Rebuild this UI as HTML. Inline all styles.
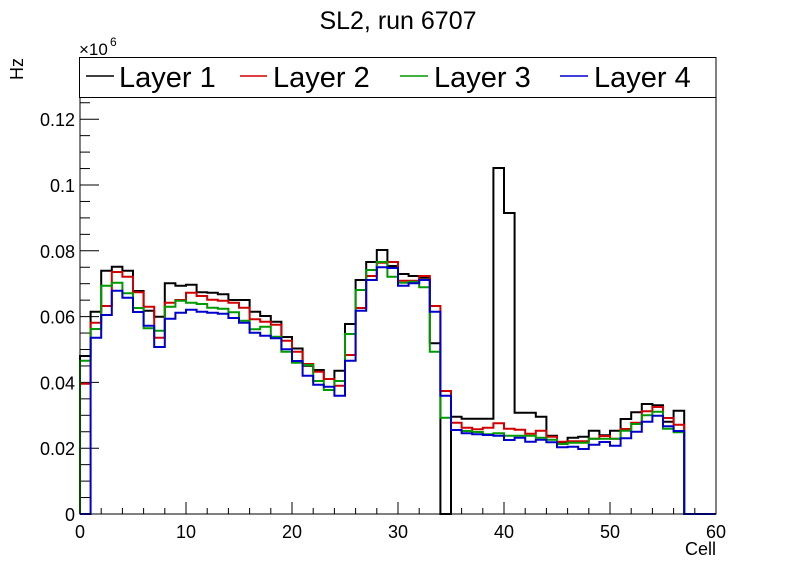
<!DOCTYPE html>
<html><head><meta charset="utf-8"><style>
body{margin:0;background:#fff;}
svg text{font-family:"Liberation Sans",Arial,sans-serif;}
</style></head><body>
<svg id="s" width="796" height="572" xmlns="http://www.w3.org/2000/svg">
<rect width="796" height="572" fill="#fff"/>
<text x="398" y="29" font-size="25" text-anchor="middle">SL2, run 6707</text>
<g id="ticks" stroke="#000" stroke-width="1"></g>
<g id="series" fill="none" stroke-width="2"></g>
<rect x="80" y="97" width="636" height="417" fill="none" stroke="#000" stroke-width="1"/>
<rect x="79.5" y="57.5" width="636.5" height="40" fill="#fff" stroke="#000" stroke-width="1"/>
<line x1="86" y1="76" x2="114" y2="76" stroke="#000" stroke-width="1.5"/>
<text x="119" y="87" font-size="29">Layer 1</text>
<line x1="240" y1="76" x2="267" y2="76" stroke="#d00000" stroke-width="1.5"/>
<text x="273" y="87" font-size="29">Layer 2</text>
<line x1="400" y1="76" x2="428" y2="76" stroke="#009900" stroke-width="1.5"/>
<text x="434" y="87" font-size="29">Layer 3</text>
<line x1="560" y1="76" x2="588" y2="76" stroke="#0000cc" stroke-width="1.5"/>
<text x="594" y="87" font-size="29">Layer 4</text>
<text x="79" y="55" font-size="17">×10</text>
<text x="110" y="46" font-size="12">6</text>
<text transform="translate(23,80) rotate(-90)" font-size="18">Hz</text>
<text x="716" y="555" font-size="18" text-anchor="end">Cell</text>
<g id="labels" font-size="18"></g>
</svg>
<script>
var NS="http://www.w3.org/2000/svg";
function el(p,t,a,txt){var e=document.createElementNS(NS,t);for(var k in a)e.setAttribute(k,a[k]);if(txt!==undefined)e.textContent=txt;document.getElementById(p).appendChild(e);}
for(var i=0;i<=30;i++){var x=80+i*636/30;var L=(i%5==0)?12:6;el("ticks","line",{x1:x,y1:514,x2:x,y2:514-L});}
for(var i=0;i<=60;i+=10){el("labels","text",{x:80+i*10.6,y:538,"text-anchor":"middle"},String(i));}
var py=3290;
for(var i=0;i<=25;i++){var y=514-i*0.005*py;var L=(i%4==0)?19:10;el("ticks","line",{x1:80,y1:y,x2:80+L,y2:y});}
var yl=["0","0.02","0.04","0.06","0.08","0.1","0.12"];
for(var i=0;i<7;i++){el("labels","text",{x:75,y:514-i*0.02*py+7,"text-anchor":"end"},yl[i]);}
var K=[356,311.7,270.7,266.7,270.7,291,310.7,316.7,283.3,285.7,284.7,292.3,292.7,294.3,300,300,311.7,316,321.7,337,348.5,365.7,370,379,370.7,324,280,262,250,266,274,276,277.7,343.3,514,416.7,418.7,418.7,418.7,168,213,412.7,412.7,416.7,435.7,442,437.7,436.7,430.7,435.3,430.7,419,412.3,404,405.3,421.7,410.7,514,514,514];
var R=[383.7,322.7,306,272,276.7,292.3,306.7,337.7,302.7,300,292.7,296,299.7,300.7,302.7,307.7,319.3,321.7,324.7,340.7,351.7,364,371.7,379,385.7,355,308,276,262.7,262,280.7,280.7,276,306,391,422.7,427.7,429.3,427.7,423.3,428.7,429.7,433.7,430.7,436.7,441.7,441.3,441.3,438.7,436,438.7,429,422.7,411.3,407,418,424.7,514,514,514];
var G=[360.7,329,285.7,282.7,293.3,308,328.3,330.7,306.7,300.7,302.7,304,307.7,308.7,312.3,320.7,329.3,326.7,336.7,351.7,362.7,365,381,390,381,334,290,270,262,276.7,282.7,281.7,287.3,351.7,417.7,430,431,432,434.3,433.3,435.7,435.7,435.7,437.7,439.7,444,442.7,442.7,438.7,438.7,438.7,430.7,424,415.3,411.7,428.7,432.3,514,514,514];
var B=[514,337.7,315,290.7,297.7,312,325.7,347,318.7,312.7,309.7,311.7,312.7,313.7,318,322.7,332.7,335.7,338.3,349.3,361,375.7,384.7,386.7,395.7,360.7,310.7,280,267.3,268,285.7,283.3,280,311.7,395.7,430,433.3,434.3,435,435.7,440,437.7,441.7,439.7,442.3,447.3,446.7,449,444.7,442,445.7,438.3,431.7,421.7,415.7,426.3,431,514,514,514];
function path(d,c){var s="M80,514";for(var i=0;i<60;i++){var x0=80+i*10.6,x1=80+(i+1)*10.6;s+=" L"+x0.toFixed(1)+","+d[i]+" L"+x1.toFixed(1)+","+d[i];}s+=" L716,514";el("series","path",{d:s,stroke:c});}
path(K,"#000");path(R,"#d00000");path(G,"#009900");path(B,"#0000cc");
</script>
</body></html>
